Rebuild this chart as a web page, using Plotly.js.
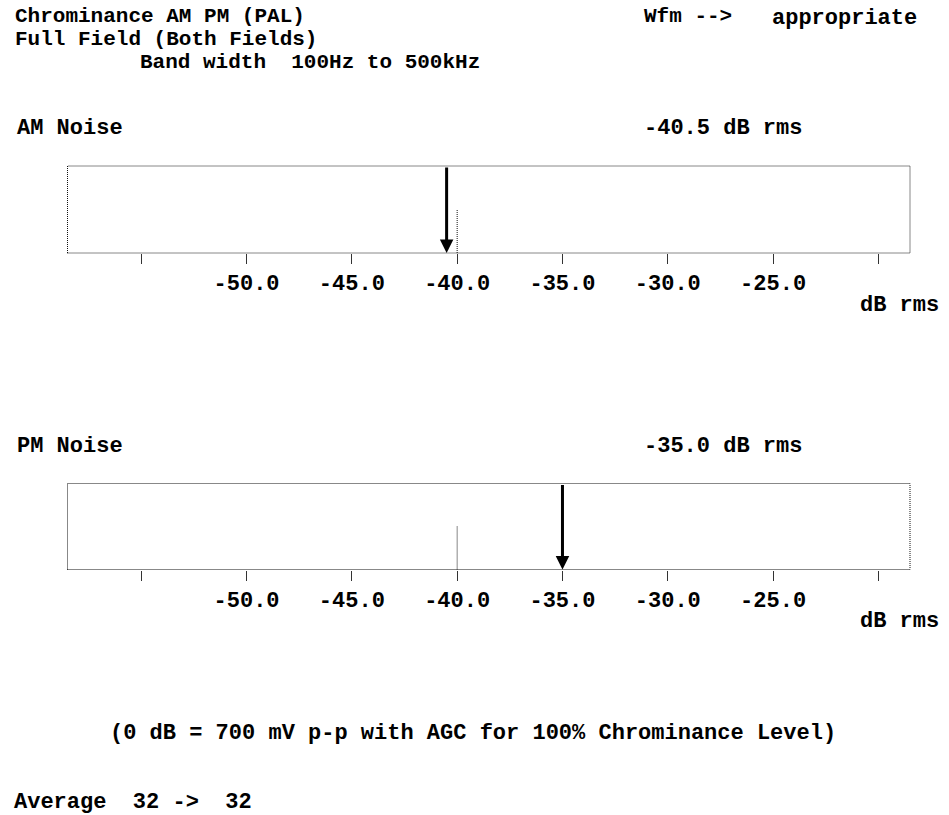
<!DOCTYPE html>
<html>
<head>
<meta charset="utf-8">
<script src="https://cdn.plot.ly/plotly-3.0.1.min.js"></script>
<style>
  html, body { margin: 0; padding: 0; background: #fff; }
  #chart { width: 949px; height: 815px; }
</style>
</head>
<body>
<div id="chart"></div>
<script>
// ---- data ----
const panelNames = ['AM Noise', 'PM Noise'];
const measuredValues = [-40.5, -35.0];
const limitValues = [-40, -40];
const unitLabel = 'dB rms';
const tickValues = [-55, -50, -45, -40, -35, -30, -25, -20];
const tickLabels = ['', '-50.0', '-45.0', '-40.0', '-35.0', '-30.0', '-25.0', ''];
const axisRange = [-58.5, -18.5];
const headerLines = ['Chrominance AM PM (PAL)', 'Full Field (Both Fields)', 'Band width\u00a0\u00a0100Hz to 500kHz'];
const waveformLabel = 'Wfm -->';
const waveformValue = 'appropriate';
const footnote = '(0 dB = 700 mV p-p with AGC for 100% Chrominance Level)';
const averageText = 'Average\u00a0\u00a032 ->\u00a0\u00a032';

// ---- layout helpers ----
const W = 949, H = 815;
const py = v => 1 - v / H;   // pixel-from-top to paper
const px = v => v / W;
const FONT = 'Liberation Mono, Courier New, monospace';
const txtFont = {family: FONT, size: 22, color: '#000', weight: 'bold'};
const headFont = {family: FONT, size: 21, color: '#000', weight: 'bold'};

const xDomain = [px(67.5), px(910)];
const yDomains = [[py(253), py(166)], [py(569.5), py(483.5)]];
const titleY = [129, 446.5];
const unitY = [305, 621];

const traces = [];
const shapes = [];
const annotations = [];
const layout = {
  width: W, height: H,
  margin: {l: 0, r: 0, t: 0, b: 0},
  paper_bgcolor: '#fff', plot_bgcolor: '#fff',
  showlegend: false,
  font: txtFont,
};

panelNames.forEach((name, i) => {
  const n = i + 1;
  const xa = 'xaxis' + (n === 1 ? '' : n), ya = 'yaxis' + (n === 1 ? '' : n);
  const xr = 'x' + (n === 1 ? '' : n), yr = 'y' + (n === 1 ? '' : n);
  layout[xa] = {
    domain: xDomain, range: axisRange, anchor: yr,
    showgrid: false, zeroline: false, showline: false,
    ticks: 'outside', ticklen: 10, tickwidth: 1, tickcolor: '#333',
    tickmode: 'array', tickvals: tickValues, ticktext: tickLabels,
    tickfont: txtFont, ticklabelstandoff: 0, fixedrange: true,
  };
  layout[ya] = {
    domain: yDomains[i], range: [0, 1], anchor: xr,
    showgrid: false, zeroline: false, showline: false,
    showticklabels: false, ticks: '', fixedrange: true,
  };
  traces.push({
    type: 'scatter', mode: 'markers', x: [measuredValues[i]], y: [0],
    xaxis: xr, yaxis: yr, marker: {opacity: 0}, hoverinfo: 'skip',
  });
  // frame
  shapes.push({
    type: 'rect', xref: xr + ' domain', yref: yr + ' domain',
    x0: 0, x1: 1, y0: 0, y1: 1,
    line: {color: '#111', width: 1, dash: '1px,1px'},
  });
  // limit line
  shapes.push({
    type: 'line', xref: xr, yref: yr + ' domain',
    x0: limitValues[i], x1: limitValues[i], y0: 0, y1: 0.5,
    line: {color: '#111', width: 1, dash: '1px,1px'},
  });
  // arrow
  annotations.push({
    xref: xr, yref: yr, x: measuredValues[i], y: 0,
    axref: xr, ayref: yr, ax: measuredValues[i], ay: 1,
    showarrow: true, arrowhead: 2, arrowsize: 0.9, arrowwidth: 3,
    arrowcolor: '#000', text: '',
  });
  annotations.push({
    xref: 'paper', yref: 'paper', x: px(15), y: py(titleY[i]),
    xanchor: 'left', yanchor: 'middle', text: name, showarrow: false, font: txtFont,
  });
  annotations.push({
    xref: 'paper', yref: 'paper', x: px(641.5), y: py(titleY[i]),
    xanchor: 'left', yanchor: 'middle',
    text: measuredValues[i].toFixed(1) + ' ' + unitLabel, showarrow: false, font: txtFont,
  });
  annotations.push({
    xref: 'paper', yref: 'paper', x: px(858), y: py(unitY[i]),
    xanchor: 'left', yanchor: 'middle', text: unitLabel, showarrow: false, font: txtFont,
  });
});

const headerY = [16.5, 39.5, 62.5];
const headerX = [12.5, 12.5, 138];
headerLines.forEach((t, k) => {
  annotations.push({
    xref: 'paper', yref: 'paper', x: px(headerX[k]), y: py(headerY[k]),
    xanchor: 'left', yanchor: 'middle', text: t, showarrow: false, font: headFont,
  });
});
annotations.push({xref: 'paper', yref: 'paper', x: px(641.5), y: py(16.5),
  xanchor: 'left', yanchor: 'middle', text: waveformLabel, showarrow: false, font: headFont});
annotations.push({xref: 'paper', yref: 'paper', x: px(770), y: py(19),
  xanchor: 'left', yanchor: 'middle', text: waveformValue, showarrow: false, font: txtFont});
annotations.push({xref: 'paper', yref: 'paper', x: px(108), y: py(733),
  xanchor: 'left', yanchor: 'middle', text: footnote, showarrow: false, font: txtFont});
annotations.push({xref: 'paper', yref: 'paper', x: px(11.5), y: py(802),
  xanchor: 'left', yanchor: 'middle', text: averageText, showarrow: false, font: txtFont});

layout.shapes = shapes;
layout.annotations = annotations;

Plotly.newPlot('chart', traces, layout, {displayModeBar: false, staticPlot: true});
</script>
</body>
</html>
